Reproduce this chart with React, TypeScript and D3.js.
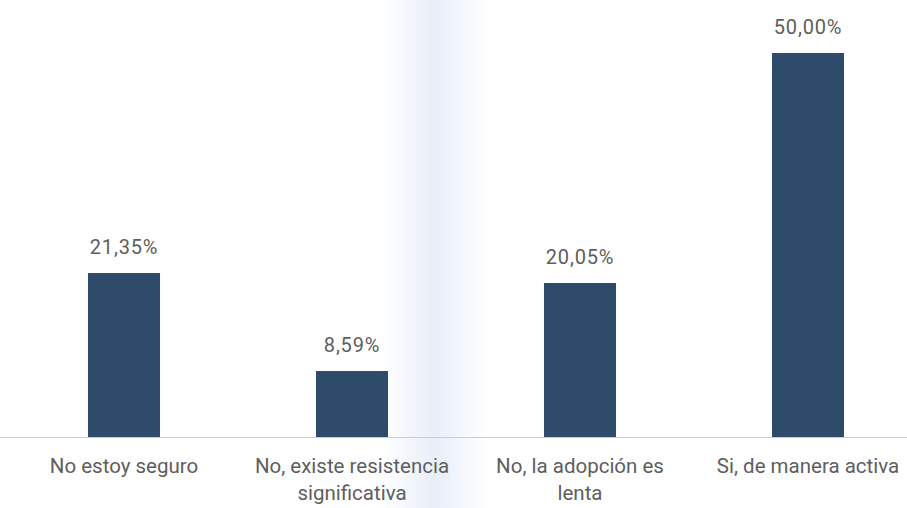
import React from "react";
import * as d3 from "d3";

const categories = [
  ["No estoy seguro"],
  ["No, existe resistencia", "significativa"],
  ["No, la adopción es", "lenta"],
  ["Si, de manera activa"],
];
const values = [21.35, 8.59, 20.05, 50.0];
const valueLabels = ["21,35%", "8,59%", "20,05%", "50,00%"];

const W = 907;
const H = 508;

export default function App() {
  const x = d3
    .scaleBand<number>()
    .domain(values.map((_, i) => i))
    .range([10, 922])
    .paddingInner(0.684)
    .paddingOuter(0.342);
  const y = d3.scaleLinear().domain([0, 50]).range([437, 53]);
  const font = "Roboto, 'Open Sans', sans-serif";
  return (
    <svg
      width={W}
      height={H}
      style={{ position: "absolute", left: 0, top: 0, background: "#fff" }}
    >
      <defs>
        <linearGradient id="smudge" x1="0" x2="1" y1="0" y2="0">
          <stop offset="0" stopColor="#dfe8f6" stopOpacity="0" />
          <stop offset="0.5" stopColor="#dfe8f6" stopOpacity="0.7" />
          <stop offset="1" stopColor="#dfe8f6" stopOpacity="0" />
        </linearGradient>
      </defs>
      <rect x={380} y={0} width={110} height={H} fill="url(#smudge)" />
      <line x1={0} x2={W} y1={y(0) + 0.5} y2={y(0) + 0.5} stroke="#c9ccd2" strokeWidth={1} />
      {values.map((v, i) => (
        <g key={i}>
          <rect
            x={x(i)}
            y={y(v)}
            width={x.bandwidth()}
            height={y(0) - y(v)}
            fill="#2f4b6c"
          />
          <text
            x={(x(i) ?? 0) + x.bandwidth() / 2}
            y={y(v) - 19}
            textAnchor="middle"
            fontFamily={font}
            fontSize={20}
            letterSpacing={0.8}
            fill="#5e5e5e"
          >
            {valueLabels[i]}
          </text>
          <text
            x={(x(i) ?? 0) + x.bandwidth() / 2}
            y={473}
            textAnchor="middle"
            fontFamily={font}
            fontSize={20.5}
            fill="#5e5e5e"
          >
            {categories[i].map((line, j) => (
              <tspan key={j} x={(x(i) ?? 0) + x.bandwidth() / 2} dy={j === 0 ? 0 : 27}>
                {line}
              </tspan>
            ))}
          </text>
        </g>
      ))}
    </svg>
  );
}
